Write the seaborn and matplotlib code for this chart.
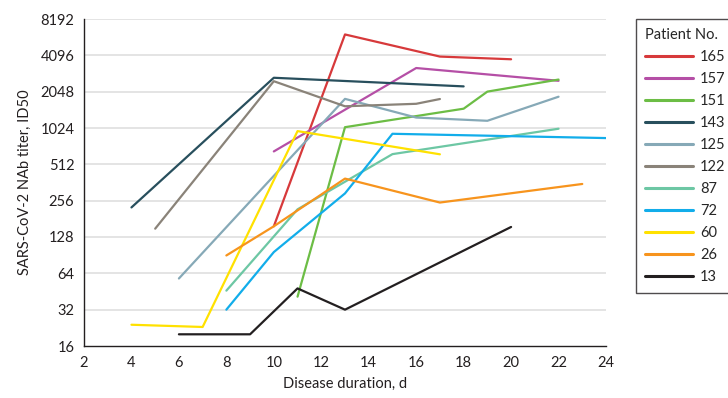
import matplotlib
matplotlib.use("Agg")
import matplotlib.pyplot as plt
import seaborn as sns
import pandas as pd

# Data (disease day, NAb titer) per patient
patients = ["165", "157", "151", "143", "125", "122", "87", "72", "60", "26", "13"]
days_165 = [10, 13, 17, 20];          titer_165 = [157, 6100, 4000, 3800]
days_157 = [10, 16, 22];              titer_157 = [655, 3215, 2520]
days_151 = [11, 13, 18, 19, 22];      titer_151 = [41, 1040, 1480, 2050, 2580]
days_143 = [4, 10, 18];               titer_143 = [225, 2670, 2265]
days_125 = [6, 13, 16, 19, 22];       titer_125 = [58, 1785, 1250, 1175, 1860]
days_122 = [5, 10, 13, 16, 17];       titer_122 = [150, 2500, 1550, 1625, 1780]
days_87 = [8, 11, 15, 22];            titer_87 = [46, 217, 622, 1010]
days_72 = [8, 10, 13, 15, 24];        titer_72 = [32, 96, 294, 917, 845]
days_60 = [4, 7, 11, 17];             titer_60 = [24, 23, 965, 620]
days_26 = [8, 10, 13, 17, 23];        titer_26 = [90, 157, 390, 247, 352]
days_13 = [6, 9, 11, 13, 20];         titer_13 = [20, 20, 48, 32, 155]

colors = ["#d7393b", "#b54fa6", "#6cbd45", "#284f5d", "#86a9b7", "#8a8379",
          "#6dc7a4", "#12adea", "#ffe100", "#f7941d", "#231f20"]

y_ticks = [16, 32, 64, 128, 256, 512, 1024, 2048, 4096, 8192]
x_ticks = [2, 4, 6, 8, 10, 12, 14, 16, 18, 20, 22, 24]

series = {
    "165": (days_165, titer_165), "157": (days_157, titer_157),
    "151": (days_151, titer_151), "143": (days_143, titer_143),
    "125": (days_125, titer_125), "122": (days_122, titer_122),
    "87": (days_87, titer_87), "72": (days_72, titer_72),
    "60": (days_60, titer_60), "26": (days_26, titer_26),
    "13": (days_13, titer_13),
}
rows = []
for p in patients:
    d, t = series[p]
    for di, ti in zip(d, t):
        rows.append({"Patient": p, "Day": di, "Titer": ti})
df = pd.DataFrame(rows)

sns.set_theme(style="white")
plt.rcParams["font.family"] = ["Lato", "DejaVu Sans"]

fig = plt.figure(figsize=(7.28, 3.98), dpi=100)
ax = fig.add_axes([84 / 728, 1 - 346 / 398, (606 - 84) / 728, (346 - 19) / 398])

palette = dict(zip(patients, colors))
sns.lineplot(data=df, x="Day", y="Titer", hue="Patient", hue_order=patients,
             palette=palette, linewidth=1.6, ax=ax, sort=True, estimator=None,
             legend=True)

ax.set_yscale("log", base=2)
ax.set_ylim(16, 8192)
ax.set_xlim(2, 24)
ax.set_yticks(y_ticks)
ax.set_yticklabels([str(v) for v in y_ticks])
ax.minorticks_off()
ax.set_xticks(x_ticks)
ax.set_xticklabels([str(v) for v in x_ticks])

for y in y_ticks[1:]:
    ax.axhline(y, color="#dcdcdc", lw=1.1, zorder=0)

for s in ["top", "right"]:
    ax.spines[s].set_visible(False)
for s in ["left", "bottom"]:
    ax.spines[s].set_color("#231f20")
    ax.spines[s].set_linewidth(1.0)

ax.tick_params(axis="both", which="major", direction="out", length=5, width=1,
               color="#231f20", labelsize=10.5, labelcolor="#231f20", pad=2)
ax.set_xlabel("Disease duration, d", fontsize=10.5, color="#231f20", labelpad=5)
ax.set_ylabel("SARS-CoV-2 NAb titer, ID50", fontsize=10.5, color="#231f20", labelpad=6)

handles, labels = ax.get_legend_handles_labels()
ax.get_legend().remove()
leg = fig.legend(handles, labels, title="Patient No.", loc="upper left",
                 bbox_to_anchor=(636 / 728, 1 - 19 / 398), frameon=True,
                 fontsize=10.5, title_fontsize=10.5, handlelength=3.3,
                 labelspacing=0.55, borderaxespad=0, borderpad=0.6,
                 handletextpad=0.5, fancybox=False)
leg._legend_box.align = "left"
frame = leg.get_frame()
frame.set_edgecolor("#231f20")
frame.set_linewidth(1.0)
for line in leg.get_lines():
    line.set_linewidth(2.2)

fig.savefig("out.png", dpi=100)
